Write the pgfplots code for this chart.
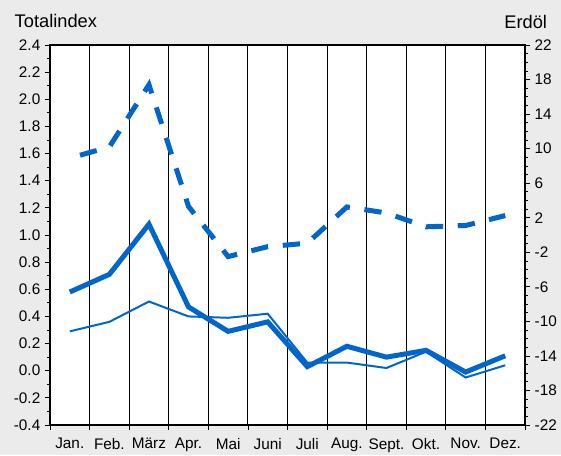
\documentclass[border=0pt]{standalone}
\usepackage{fontspec}
\setmainfont{Liberation Sans}
\usepackage{pgfplots}
\pgfplotsset{compat=1.18}
\definecolor{bg}{HTML}{EBEBEB}
\definecolor{lineblue}{HTML}{0066CC}

\begin{document}
\begin{tikzpicture}
% background, 1px = 0.75pt
\fill[bg] (0,0) rectangle (420.75pt,341.25pt);
\pgfplotsset{
  every axis/.append style={
    scale only axis, width=356.25pt, height=285pt,
    at={(37.5pt,22.5pt)}, anchor=south west,
    xmin=0, xmax=12,
    tick label style={font=\fontsize{11.5}{13}\selectfont},
    /pgf/number format/assume math mode=true,
    tick align=outside,
    major tick length=3.75pt, minor tick length=2.2pt,
    tick style={black, line width=0.6pt},
    axis line style={black, line width=0.8pt},
  }
}
\begin{axis}[
  axis background/.style={fill=white},
  ymin=-0.4, ymax=2.4,
  ytick={-0.4,-0.2,0,0.2,0.4,0.6,0.8,1.0,1.2,1.4,1.6,1.8,2.0,2.2,2.4},
  minor y tick num=1,
  yticklabel style={/pgf/number format/.cd, fixed, fixed zerofill, precision=1},
  xtick={0,1,...,12}, xticklabels={},
  xticklabel style={yshift=-6.5pt},
  xmajorgrids, major x grid style={black, line width=0.75pt},
  extra x ticks={0.5,1.5,2.5,3.5,4.5,5.5,6.5,7.5,8.5,9.5,10.5,11.5},
  extra x tick labels={Jan.,Feb.,März,Apr.,Mai,Juni,Juli,Aug.,Sept.,Okt.,Nov.,Dez.},
  extra x tick style={grid=none, major tick length=0pt},
  ytick pos=left, xtick pos=bottom,
]
% Totalindex (thick)
\addplot[lineblue, line width=3.75pt] coordinates {
  (0.5,0.58) (1.5,0.71) (2.5,1.08) (3.5,0.47) (4.5,0.29) (5.5,0.36)
  (6.5,0.03) (7.5,0.18) (8.5,0.10) (9.5,0.15) (10.5,-0.01) (11.5,0.11)};
% second series (thin)
\addplot[lineblue, line width=1.5pt] coordinates {
  (0.5,0.29) (1.5,0.36) (2.5,0.51) (3.5,0.40) (4.5,0.39) (5.5,0.42)
  (6.5,0.06) (7.5,0.06) (8.5,0.02) (9.5,0.14) (10.5,-0.05) (11.5,0.04)};
\end{axis}
\begin{axis}[
  ymin=-22, ymax=22,
  ytick={-22,-18,...,22},
  minor y tick num=3,
  axis y line*=right, axis x line=none,
]
% Erdoel (dashed, right axis)
\addplot[lineblue, line width=3.75pt, dash pattern=on 13pt off 11pt, dash phase=16pt] coordinates {
  (0.5,8.9) (1.5,10.2) (2.5,17.4) (3.5,3.3) (4.5,-2.5) (5.5,-1.35)
  (6.5,-0.95) (7.5,3.25) (8.5,2.55) (9.5,0.95) (10.5,1.1) (11.5,2.25)};
\end{axis}
\node[anchor=base west, font=\fontsize{13.7}{16}\selectfont] at (7.5pt,321pt) {Totalindex};
\node[anchor=base east, font=\fontsize{13.7}{16}\selectfont] at (413.8pt,320.25pt) {Erdöl};
\pgfresetboundingbox
\path (0,0) rectangle (420.75pt,341.25pt);
\end{tikzpicture}
\end{document}
